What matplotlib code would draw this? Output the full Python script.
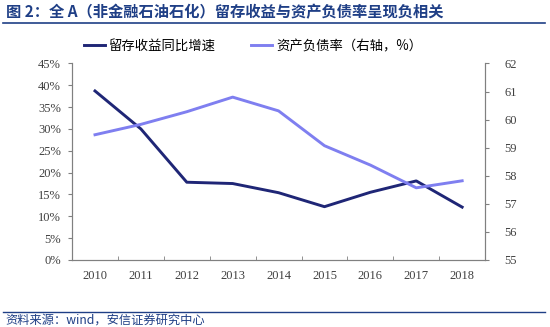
import matplotlib.pyplot as plt
from matplotlib.lines import Line2D
from matplotlib.ticker import FixedLocator

plt.rcParams["font.family"] = ["Liberation Serif", "Noto Sans CJK SC"]

years = ["2010", "2011", "2012", "2013", "2014", "2015", "2016", "2017", "2018"]
# retained earnings YoY growth (%), left axis
earnings_growth = [38.7, 30.0, 17.8, 17.5, 15.4, 12.2, 15.5, 18.1, 12.1]
# debt-to-asset ratio (%), right axis
debt_ratio = [59.46, 59.83, 60.28, 60.8, 60.31, 59.07, 58.38, 57.57, 57.82]

dark = "#1f2676"
light = "#7f7ff0"
blue = "#1f3f86"
grey = "#808080"

fig = plt.figure(figsize=(5.5, 3.27), dpi=100)
ax = fig.add_axes([0.131, 0.205, 0.751, 0.601])
ax2 = ax.twinx()

x = list(range(len(years)))
ax.plot(x, earnings_growth, color=dark, lw=2.1)
ax2.plot(x, debt_ratio, color=light, lw=2.1)

ax.set_xlim(-0.5, 8.5)
ax.set_ylim(0, 45)
ax.set_yticks(range(0, 46, 5))
ax.set_yticklabels([f"{v}%" for v in range(0, 46, 5)])
ax2.set_ylim(55, 62)
ax2.set_yticks(range(55, 63))

ax.set_xticks(x)
ax.set_xticklabels(years)
ax.xaxis.set_minor_locator(FixedLocator([i - 0.5 for i in range(len(years) + 1)]))
ax.tick_params(axis="x", which="major", length=0, pad=7)
ax.tick_params(axis="x", which="minor", length=3, direction="in", color=grey)

for a in (ax, ax2):
    a.spines["top"].set_visible(False)
    for s in ("left", "right", "bottom"):
        a.spines[s].set_color(grey)
        a.spines[s].set_linewidth(0.8)
    a.tick_params(axis="y", length=3, color=grey, labelsize=9, labelcolor="#404040")
ax.tick_params(axis="x", labelsize=9, labelcolor="#404040")
ax.tick_params(axis="y", pad=5)
ax2.tick_params(axis="y", pad=11)

handles = [Line2D([], [], color=dark, lw=2.1), Line2D([], [], color=light, lw=2.1)]
fig.legend(handles, ["留存收益同比增速", "资产负债率（右轴，%）"],
           loc="center", bbox_to_anchor=(0.46, 0.859), ncol=2, frameon=False,
           handlelength=1.6, handletextpad=0.3, columnspacing=2.6,
           prop={"family": ["Noto Sans CJK SC"], "size": 9.6})

fig.text(0.01, 0.963, "图 2：全 A（非金融石油石化）留存收益与资产负债率呈现负相关",
         fontsize=11, fontweight="bold", color=blue, va="center",
         family=["Noto Sans CJK SC"])
fig.add_artist(Line2D([0.005, 0.99], [0.93, 0.93], color=blue, lw=1.2))
fig.add_artist(Line2D([0.005, 0.99], [0.046, 0.046], color=blue, lw=1.0))
fig.text(0.01, 0.02, "资料来源：wind，安信证券研究中心", fontsize=8.8, style="italic",
         color=blue, va="center", family=["Noto Sans CJK SC"])

fig.savefig("out.png", dpi=100)
